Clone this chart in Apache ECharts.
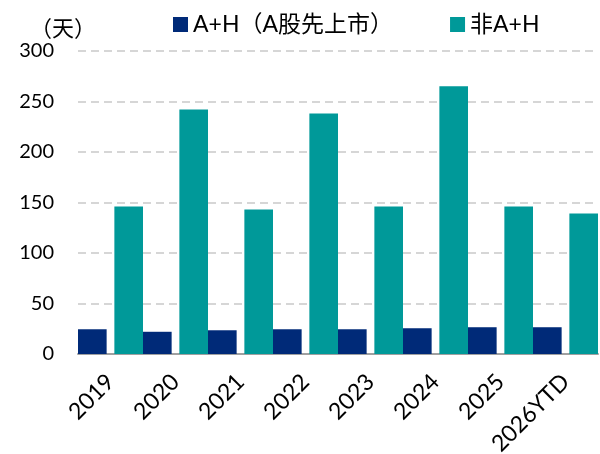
<!DOCTYPE html>
<html>
<head>
<meta charset="utf-8">
<script src="https://cdn.jsdelivr.net/npm/echarts@6/dist/echarts.min.js"></script>
<style>
  html, body { margin: 0; padding: 0; background: #fff; }
  #chart { width: 600px; height: 454px; }
</style>
</head>
<body>
<div id="chart"></div>
<script>
const categories = ["2019", "2020", "2021", "2022", "2023", "2024", "2025", "2026YTD"]
const ahValues = [24.5, 22, 23.5, 24.5, 24.5, 25.5, 26.5, 26.5]
const nonAhValues = [146, 242, 143, 238, 146, 265, 146, 139]
const seriesNames = ["A+H（A股先上市）", "非A+H"]
const unitLabel = "（天）"

const fontFamily = "Lato, 'Noto Sans CJK SC', sans-serif"

const myChart = echarts.init(document.getElementById("chart"))

myChart.setOption({
  animation: false,
  textStyle: {fontFamily},
  title: {
    text: unitLabel,
    left: 25,
    top: 13,
    textStyle: {fontSize: 22, fontWeight: "normal", color: "#000", fontFamily},
  },
  legend: {
    left: 168,
    top: 8,
    itemWidth: 15,
    itemHeight: 15,
    itemGap: 57,
    icon: "rect",
    textStyle: {fontSize: 23, color: "#000", fontFamily},
    data: seriesNames,
  },
  grid: {
    left: 78,
    right: 2,
    top: 51,
    bottom: 100,
    outerBoundsMode: "none",
  },
  xAxis: {
    type: "category",
    data: categories,
    axisLine: {lineStyle: {color: "#a0a0a0", width: 2}},
    axisTick: {show: false},
    axisLabel: {
      rotate: 45,
      fontSize: 23,
      color: "#000",
      margin: 24,
      interval: 0,
    },
  },
  yAxis: {
    type: "value",
    min: 0,
    max: 300,
    interval: 50,
    axisLine: {show: false},
    axisTick: {show: false},
    axisLabel: {fontSize: 20, color: "#000", margin: 24},
    splitLine: {
      lineStyle: {color: "#d6d6d6", width: 2, type: [8, 5]},
    },
  },
  series: [
    {
      name: seriesNames[0],
      type: "bar",
      data: ahValues,
      barGap: "27%",
      barCategoryGap: "0%",
      itemStyle: {color: "#002a78"},
    },
    {
      name: seriesNames[1],
      type: "bar",
      data: nonAhValues,
      barGap: "27%",
      barCategoryGap: "0%",
      itemStyle: {color: "#009999"},
    },
  ],
})
</script>
</body>
</html>
